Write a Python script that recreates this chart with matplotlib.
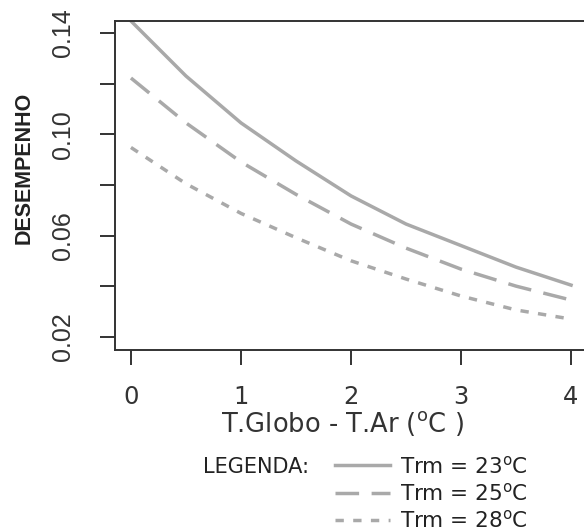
import matplotlib
matplotlib.use("Agg")
import matplotlib.pyplot as plt

# values
x = [0, 0.5, 1, 1.5, 2, 2.5, 3, 3.5, 4]
trm23 = [0.1447, 0.1230, 0.1045, 0.0895, 0.0757, 0.0646, 0.0561, 0.0476, 0.0405]
trm25 = [0.1222, 0.1045, 0.0891, 0.0763, 0.0646, 0.0551, 0.0468, 0.0401, 0.0346]
trm28 = [0.0948, 0.0805, 0.0688, 0.0592, 0.0501, 0.0429, 0.0362, 0.0307, 0.0271]
labels = ["Trm = 23$^{o}$C", "Trm = 25$^{o}$C", "Trm = 28$^{o}$C"]

x_ticks = [0, 1, 2, 3, 4]
y_ticks = [0.02, 0.04, 0.06, 0.08, 0.10, 0.12, 0.14]
y_ticklabels = ["0.02", "", "0.06", "", "0.10", "", "0.14"]

plt.rcParams['mathtext.default'] = 'regular'
narrow = ['Liberation Sans Narrow', 'Liberation Sans', 'DejaVu Sans']

W, H = 584, 531
fig = plt.figure(figsize=(W / 100, H / 100), dpi=100)
# right side of the box is cut off in the original, so the axes run past the edge
ax = fig.add_axes([115 / W, 181 / H, 472 / W, 329 / H])

line_color = '#a9a9a9'
ax.plot(x, trm23, color=line_color, lw=2.5, label=labels[0])
ax.plot(x, trm25, color=line_color, lw=2.5, ls=(0, (6.8, 3.6)), label=labels[1])
ax.plot(x, trm28, color=line_color, lw=2.5, ls=(0, (2.4, 2.7)), label=labels[2])

ax.set_xlim(-0.145, 4.145)
ax.set_ylim(0.0149, 0.1447)

ax.set_xticks(x_ticks)
ax.set_xticklabels([str(t) for t in x_ticks], fontsize=17.5, color='#333')
ax.set_yticks(y_ticks)
ax.set_yticklabels(y_ticklabels, rotation=90, va='center', family=narrow,
                   fontsize=18, color='#333')
ax.tick_params(axis='y', length=11, width=1.4, pad=18, color='#333')
ax.tick_params(axis='x', length=11, width=1.4, pad=14, color='#333')
for sp in ax.spines.values():
    sp.set_linewidth(1.4)
    sp.set_color('#333')

ax.set_xlabel("T.Globo - T.Ar ($^{o}$C )", fontsize=18.5, color='#333', va='center')
ax.xaxis.set_label_coords(0.481, -0.222)

fig.text(24 / W, 1 - 168 / H, "DESEMPENHO", rotation=90, ha='center', va='center',
         family=narrow, fontweight='bold', fontsize=15.5, color='#222')

fig.text(203 / W, 1 - 467 / H, "LEGENDA:", ha='left', va='center', fontsize=15, color='#222')
ax.legend(loc='upper left', bbox_to_anchor=(335 / W, 1 - 455 / H), bbox_transform=fig.transFigure,
          frameon=False, fontsize=15.5, labelcolor='#222', handlelength=2.55,
          handletextpad=0.45, labelspacing=0.25, borderpad=0, borderaxespad=0)

fig.savefig("out.png", dpi=100)
